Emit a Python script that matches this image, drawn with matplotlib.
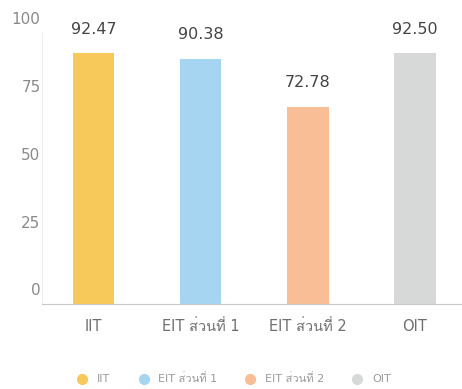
import matplotlib
matplotlib.use("Agg")
import matplotlib.pyplot as plt
from matplotlib import font_manager as fm
from matplotlib.lines import Line2D

categories = ["IIT", "EIT ส่วนที่ 1", "EIT ส่วนที่ 2", "OIT"]
values = [92.47, 90.38, 72.78, 92.50]
value_labels = ["92.47", "90.38", "72.78", "92.50"]
colors = ["#F7C85A", "#A6D5F2", "#F9BE96", "#D7D9D9"]
yticks = [0, 25, 50, 75, 100]

# find a font with Thai glyphs if any
thai_fonts = []
for f in fm.fontManager.ttflist:
    if "thai" in f.name.lower() or "loma" in f.name.lower() or "garuda" in f.name.lower():
        thai_fonts.append(f.name)
fams = list(dict.fromkeys(thai_fonts)) + ["DejaVu Sans"]
plt.rcParams["font.family"] = ["DejaVu Sans"] + fams

fig = plt.figure(figsize=(4.62, 3.89), dpi=100)
ax = fig.add_axes([42/462, 1 - 304/389, (462 - 42)/462, (304 - 33)/389])

x = list(range(len(categories)))
ax.bar(x, values, width=0.39, color=colors, zorder=2)
ax.set_xlim(-0.48, 3.44)
ax.set_ylim(0, 100)

for xi, v, lab in zip(x, values, value_labels):
    ax.annotate(lab, (xi, v), xytext=(0, 12), textcoords="offset points",
                ha="center", va="bottom", fontsize=11.5, color="#444444")

ax.set_yticks(yticks)
ax.set_yticklabels([])
ax.tick_params(axis="y", length=0)
ytrans = ax.get_yaxis_transform()
for t in yticks:
    ax.annotate(str(t), (0, t), xycoords=ytrans, xytext=(-1, 9.5),
                textcoords="offset points", ha="right", va="center",
                fontsize=11, color="#8a8a8a", annotation_clip=False)

ax.set_xticks(x)
ax.set_xticklabels(categories, fontsize=10.5, color="#6f6f6f")
ax.tick_params(axis="x", length=0, pad=11)

for s in ["top", "right"]:
    ax.spines[s].set_visible(False)
ax.spines["left"].set_color("#eeeeee")
ax.spines["bottom"].set_color("#c8c8c8")

handles = [Line2D([], [], marker="o", linestyle="", markersize=7,
                  markerfacecolor=c, markeredgecolor=c) for c in colors]
fig.legend(handles, categories, loc="center", bbox_to_anchor=(0.5, 1 - 379/389),
           ncol=4, frameon=False, fontsize=8, labelcolor="#9a9a9a",
           handletextpad=0.3, columnspacing=2.0)

fig.savefig("out.png", dpi=100)
